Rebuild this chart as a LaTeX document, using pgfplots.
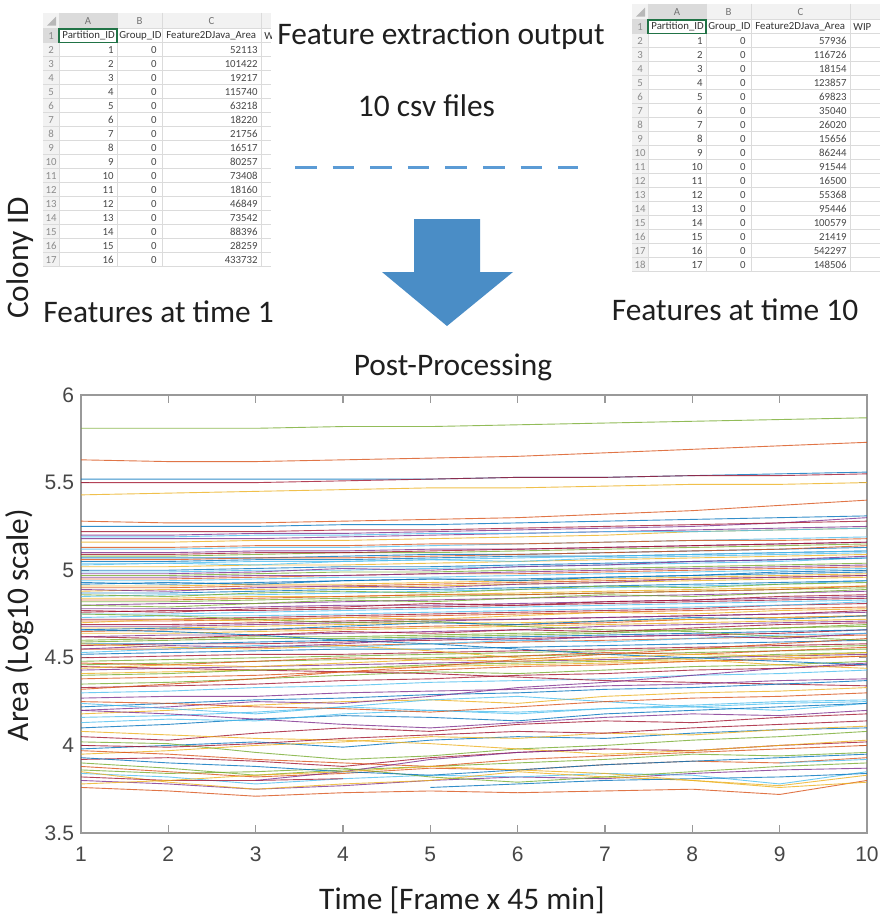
\documentclass[border=0pt]{standalone}
\usepackage{fontspec}
\setmainfont{Carlito}
\newfontfamily\axisfont{Liberation Sans}
\usepackage{pgfplots}
\usepackage{pgfplotstable}
\pgfplotsset{compat=1.18}

\definecolor{mblue}{RGB}{0,114,189}
\definecolor{morange}{RGB}{217,83,25}
\definecolor{myellow}{RGB}{237,177,32}
\definecolor{mpurple}{RGB}{126,47,142}
\definecolor{mgreen}{RGB}{119,172,48}
\definecolor{mcyan}{RGB}{77,190,238}
\definecolor{mred}{RGB}{162,20,47}
\definecolor{arrowblue}{RGB}{74,141,198}
\definecolor{dashblue}{RGB}{91,155,213}
\definecolor{xlgreen}{RGB}{33,115,70}

\pgfplotscreateplotcyclelist{matlab}{mblue\\morange\\myellow\\mpurple\\mgreen\\mcyan\\mred\\}

% log10 area of each colony (one row per colony, one column per frame)
\pgfplotstableread[header=has colnames]{
1 2 3 4 5 6 7 8 9 10
5.52 5.52 5.52 5.52 5.52 5.53 5.53 5.54 5.55 5.56
5.63 5.62 5.62 5.63 5.64 5.65 5.67 5.69 5.71 5.73
5.43 5.44 5.45 5.46 5.47 5.47 5.48 5.49 5.49 5.50
5.20 5.20 5.21 5.21 5.22 5.23 5.24 5.25 5.27 5.30
5.81 5.81 5.81 5.82 5.82 5.83 5.84 5.85 5.86 5.87
5.12 5.12 5.13 5.13 5.14 5.15 5.16 5.17 5.18 5.19
5.50 5.50 5.50 5.51 5.52 5.53 5.53 5.54 5.54 5.55
5.25 5.25 5.25 5.26 5.26 5.27 5.28 5.29 5.30 5.31
5.28 5.27 5.27 5.28 5.29 5.30 5.32 5.34 5.37 5.40
5.16 5.16 5.17 5.17 5.18 5.19 5.20 5.22 5.23 5.24
5.18 5.18 5.18 5.19 5.20 5.21 5.22 5.23 5.24 5.25
5.08 5.08 5.09 5.10 5.10 5.11 5.12 5.13 5.14 5.15
5.19 5.19 5.20 5.20 5.21 5.21 5.22 5.22 5.23 5.24
5.22 5.22 5.22 5.23 5.23 5.24 5.25 5.26 5.27 5.28
5.05 5.05 5.06 5.06 5.07 5.08 5.08 5.09 5.10 5.11
4.95 4.95 4.96 4.97 4.98 4.98 4.99 5.00 5.01 5.02
4.88 4.89 4.89 4.90 4.91 4.92 4.93 4.94 4.95 4.96
5.10 5.10 5.11 5.11 5.12 5.12 5.13 5.14 5.15 5.16
4.82 4.82 4.83 4.84 4.85 4.86 4.87 4.88 4.89 4.90
4.99 4.99 5.00 5.00 5.01 5.02 5.03 5.04 5.05 5.07
4.72 4.72 4.73 4.74 4.75 4.76 4.77 4.78 4.80 4.81
4.93 4.92 4.93 4.94 4.95 4.95 4.96 4.97 4.98 4.99
4.65 4.66 4.66 4.67 4.68 4.69 4.70 4.72 4.73 4.74
5.02 5.02 5.03 5.03 5.04 5.05 5.06 5.07 5.08 5.09
4.78 4.78 4.79 4.80 4.80 4.81 4.82 4.83 4.84 4.85
4.59 4.60 4.61 4.61 4.62 4.63 4.64 4.66 4.67 4.68
4.85 4.86 4.86 4.87 4.88 4.89 4.90 4.91 4.92 4.94
4.69 4.69 4.70 4.71 4.72 4.72 4.73 4.74 4.75 4.77
5.07 5.07 5.07 5.08 5.09 5.09 5.10 5.11 5.12 5.13
4.55 4.55 4.56 4.57 4.58 4.59 4.60 4.61 4.62 4.63
4.91 4.91 4.92 4.92 4.93 4.94 4.95 4.96 4.97 4.98
4.62 4.63 4.63 4.64 4.65 4.66 4.68 4.69 4.70 4.71
4.97 4.97 4.98 4.99 4.99 5.00 5.01 5.02 5.03 5.04
4.75 4.75 4.76 4.77 4.78 4.79 4.80 4.81 4.82 4.83
4.50 4.51 4.52 4.52 4.53 4.54 4.55 4.56 4.57 4.58
4.87 4.87 4.88 4.89 4.89 4.90 4.91 4.92 4.93 4.94
5.13 5.13 5.14 5.14 5.15 5.15 5.16 5.17 5.17 5.18
4.67 4.67 4.68 4.69 4.70 4.70 4.71 4.72 4.73 4.74
4.80 4.81 4.81 4.82 4.83 4.84 4.85 4.86 4.87 4.88
4.46 4.47 4.48 4.49 4.50 4.51 4.52 4.53 4.54 4.55
4.94 4.94 4.95 4.96 4.96 4.97 4.98 4.99 5.00 5.01
4.57 4.58 4.58 4.59 4.60 4.61 4.62 4.63 4.64 4.66
5.00 5.00 5.01 5.02 5.02 5.03 5.04 5.05 5.06 5.07
4.71 4.71 4.72 4.73 4.74 4.75 4.76 4.77 4.78 4.79
4.84 4.84 4.85 4.85 4.86 4.87 4.88 4.89 4.90 4.91
4.43 4.44 4.45 4.46 4.47 4.48 4.49 4.50 4.51 4.52
4.60 4.61 4.62 4.62 4.63 4.64 4.65 4.66 4.67 4.69
5.04 5.04 5.05 5.05 5.06 5.07 5.08 5.09 5.10 5.11
4.76 4.77 4.77 4.78 4.79 4.80 4.81 4.82 4.83 4.84
4.52 4.53 4.54 4.55 4.55 4.56 4.57 4.58 4.59 4.60
4.90 4.90 4.91 4.91 4.92 4.93 4.94 4.95 4.96 4.97
4.64 4.64 4.65 4.66 4.67 4.68 4.69 4.70 4.71 4.72
4.96 4.96 4.97 4.97 4.98 4.99 5.00 5.01 5.02 5.03
4.48 4.49 4.50 4.51 4.52 4.53 4.54 4.55 4.56 4.57
4.73 4.74 4.74 4.75 4.76 4.77 4.78 4.79 4.80 4.82
5.09 5.09 5.10 5.10 5.11 5.12 5.13 5.14 5.15 5.16
4.58 4.58 4.59 4.60 4.61 4.62 4.63 4.64 4.65 4.66
4.83 4.83 4.84 4.85 4.86 4.86 4.87 4.88 4.89 4.91
4.41 4.42 4.43 4.44 4.45 4.46 4.47 4.48 4.50 4.51
4.68 4.68 4.69 4.70 4.71 4.72 4.73 4.74 4.75 4.76
4.35 4.36 4.38 4.40 4.42 4.41 4.43 4.45 4.46 4.48
4.30 4.31 4.33 4.34 4.36 4.37 4.38 4.40 4.41 4.43
4.45 4.44 4.43 4.42 4.41 4.39 4.37 4.36 4.35 4.34
4.22 4.24 4.26 4.27 4.29 4.30 4.32 4.33 4.35 4.37
4.38 4.39 4.40 4.42 4.43 4.45 4.46 4.48 4.49 4.51
4.18 4.20 4.23 4.25 4.26 4.24 4.28 4.30 4.31 4.33
4.27 4.28 4.28 4.30 4.31 4.32 4.34 4.35 4.37 4.38
4.40 4.41 4.43 4.44 4.46 4.47 4.48 4.50 4.52 4.53
4.16 4.17 4.19 4.22 4.20 4.18 4.21 4.23 4.25 4.26
4.33 4.34 4.35 4.37 4.38 4.40 4.41 4.43 4.44 4.46
4.66 4.65 4.63 4.60 4.58 4.55 4.52 4.50 4.48 4.46
4.32 4.35 4.38 4.42 4.45 4.49 4.52 4.55 4.58 4.61
4.58 4.56 4.55 4.57 4.54 4.50 4.48 4.49 4.46 4.44
4.20 4.22 4.25 4.24 4.28 4.33 4.36 4.40 4.44 4.47
4.75 4.74 4.72 4.70 4.71 4.68 4.66 4.65 4.62 4.60
4.24 4.21 4.18 4.22 4.26 4.28 4.25 4.22 4.20 4.24
4.05 4.03 4.07 4.10 4.08 4.12 4.14 4.13 4.16 4.18
3.98 4.00 4.02 3.99 4.03 4.05 4.04 4.07 4.09 4.10
3.88 3.85 3.82 3.84 3.87 3.86 3.89 3.91 3.90 3.93
3.95 3.97 4.00 4.02 4.05 4.04 4.07 4.06 4.09 4.11
3.80 3.78 3.75 3.77 3.80 3.82 3.81 3.84 3.86 3.87
4.02 4.01 3.96 3.92 3.94 3.98 4.00 4.03 4.05 4.08
3.84 3.82 3.78 3.81 3.83 3.82 3.84 3.83 3.78 3.85
3.92 3.93 3.91 3.88 3.93 3.96 3.98 3.97 4.00 4.02
4.10 4.12 4.15 4.17 4.16 4.14 4.18 4.20 4.22 4.24
3.76 3.74 3.71 3.73 3.74 3.73 3.74 3.75 3.72 3.80
3.85 3.79 3.75 3.78 3.80 3.85 3.82 3.80 3.77 3.83
4.20 4.18 4.15 4.12 4.10 4.13 4.16 4.18 4.17 4.20
3.90 3.87 3.83 3.86 3.88 3.90 3.92 3.95 3.94 3.96
4.13 4.15 4.14 4.18 4.20 4.19 4.21 4.22 4.24 4.25
3.82 3.80 3.80 3.81 nan nan nan nan nan nan
nan nan nan nan 3.76 3.78 3.80 3.81 3.82 3.84
3.97 3.95 3.92 3.90 3.88 3.92 3.94 3.96 3.98 4.00
4.08 4.06 4.04 4.03 4.01 3.98 3.95 3.97 4.00 4.03
nan nan 3.80 3.85 3.92 3.96 3.98 nan nan nan
3.86 3.84 3.85 3.87 3.82 3.79 3.82 3.85 3.88 3.90
nan nan nan nan nan nan nan nan 3.90 3.92
4.00 3.99 4.01 4.04 4.06 4.08 4.07 4.10 4.12 4.14
3.93 3.90 3.88 3.85 3.83 3.86 3.89 3.91 3.93 3.95
4.25 4.24 4.22 4.21 4.19 4.22 4.25 4.27 4.28 4.30
3.78 3.80 3.83 3.85 3.88 3.86 3.84 3.80 3.76 3.79
4.55 4.57 4.56 4.58 4.61 4.60 4.62 4.63 4.61 4.64
4.80 4.79 4.81 4.83 4.82 4.84 4.86 4.85 4.87 4.89
5.03 5.04 5.03 5.05 5.06 5.05 5.07 5.08 5.09 5.10
4.62 4.61 4.63 4.65 4.64 4.66 4.65 4.67 4.69 4.70
4.92 4.93 4.92 4.94 4.95 4.94 4.96 4.97 4.99 5.00
4.47 4.46 4.48 4.50 4.49 4.51 4.53 4.52 4.54 4.56
4.70 4.72 4.71 4.73 4.72 4.74 4.76 4.75 4.77 4.78
4.98 4.98 4.99 5.01 5.00 5.02 5.03 5.05 5.06 5.08
4.86 4.85 4.87 4.88 4.87 4.89 4.91 4.90 4.92 4.93
4.53 4.55 4.57 4.56 4.58 4.60 4.59 4.61 4.63 4.64
4.77 4.76 4.78 4.79 4.81 4.80 4.82 4.83 4.85 4.86
4.66 4.67 4.66 4.68 4.70 4.69 4.71 4.73 4.72 4.74
5.06 5.06 5.07 5.07 5.08 5.09 5.10 5.11 5.12 5.14
4.44 4.46 4.45 4.47 4.49 4.48 4.50 4.52 4.51 4.53
4.89 4.88 4.90 4.91 4.90 4.92 4.93 4.95 4.96 4.97
}\arearaw
\pgfplotstabletranspose\colonies\arearaw
\pgfplotstablegetrowsof{\arearaw}
\pgfmathtruncatemacro\ncolonies{\pgfplotsretval}

\newcommand\bigfont{\fontsize{15.7}{18}\selectfont}
\newcommand\cellfont{\fontsize{5.4}{6}\selectfont}

% spreadsheet screenshot: #1 x0, #2 y0, #3 rows, #4 last header, #5 right edge, #6 id/area pairs
\newcommand\sheet[6]{%
\begin{scope}[shift={(#1,#2)}]
  \pgfmathsetmacro\sheetbottom{16+#3*14}
  \begin{scope}
    \clip (0,0) rectangle (#5-#1,\sheetbottom+1);
    \fill[black!5] (0,0) rectangle (#5-#1,16);
    \fill[black!5] (0,16) rectangle (16,\sheetbottom);
    \fill[black!14] (16,0) rectangle (74,16);
    \fill[black!14] (0,16) rectangle (16,30);
    \fill[black!28] (13,13) -- (13,4) -- (4,13) -- cycle;
    \foreach \cx in {16,74,119,218}
      \draw[black!14, line width=0.4pt] (\cx,0) -- (\cx,\sheetbottom);
    \foreach \k in {0,...,#3}
      \draw[black!14, line width=0.4pt] (0,16+14*\k) -- (#5-#1,16+14*\k);
    \draw[xlgreen, line width=0.9pt] (16,16) -- (74,16);
    \draw[xlgreen, line width=0.7pt] (16,16) rectangle (74,30);
    \begin{scope}[every node/.style={font=\cellfont, inner sep=0pt}]
      \node[text=black!55] at (45,8) {A};
      \node[text=black!55] at (96.5,8) {B};
      \node[text=black!55] at (168.5,8) {C};
      \node[text=black!45] at (8,23) {1};
      \node[text=black!80, anchor=west] at (19,23) {Partition\_ID};
      \node[text=black!80, anchor=west] at (76,23) {Group\_ID};
      \node[text=black!80, anchor=west] at (123,23) {Feature2DJava\_Area};
      \node[text=black!80, anchor=west] at (221,23) {#4};
      \foreach \p/\v [count=\i from 2] in {#6} {
        \node[text=black!45] at (8,14*\i+9) {\i};
        \node[text=black!72, anchor=east] at (71,14*\i+9) {\p};
        \node[text=black!72, anchor=east] at (114,14*\i+9) {0};
        \node[text=black!72, anchor=east] at (215,14*\i+9) {\v};
      }
    \end{scope}
  \end{scope}
\end{scope}}

\begin{document}
\begin{tikzpicture}
\useasboundingbox (0,0) rectangle (442pt,-458.5pt);
\fill[white] (0,0) rectangle (442pt,-458.5pt);

\begin{scope}[x=0.5pt, y=-0.5pt]
  \sheet{43}{12.7}{17}{W}{271}{1/52113,2/101422,3/19217,4/115740,5/63218,6/18220,7/21756,8/16517,9/80257,10/73408,11/18160,12/46849,13/73542,14/88396,15/28259,16/433732}
  \sheet{632}{3.7}{18}{WIP}{880}{1/57936,2/116726,3/18154,4/123857,5/69823,6/35040,7/26020,8/15656,9/86244,10/91544,11/16500,12/55368,13/95446,14/100579,15/21419,16/542297,17/148506}

  \begin{scope}[every node/.style={font=\bigfont, text=black!88, inner sep=0pt}]
    \node[anchor=base] at (441,44) {Feature extraction output};
    \node[anchor=base] at (426.5,116) {10 csv files};
    \node[anchor=base, rotate=90] at (28,258) {Colony ID};
    \node[anchor=base west] at (43,322.7) {Features at time 1};
    \node[anchor=base] at (735,320) {Features at time 10};
    \node[anchor=base] at (453,375) {Post-Processing};
    \node[anchor=base] at (462,909) {Time [Frame x 45 min]};
    \node[anchor=base, rotate=90] at (28,625) {Area (Log10 scale)};
  \end{scope}

  \draw[dashblue, line width=1.5pt, dash pattern=on 10.8pt off 8pt] (295,167) -- (578,167);
  \fill[arrowblue] (414,219) -- (480,219) -- (480,272) -- (513,272) -- (447,326)
    -- (382,272) -- (414,272) -- cycle;
\end{scope}

\begin{axis}[at={(40.5pt,-416.5pt)}, anchor=south west,
    scale only axis, width=393pt, height=219pt,
    xmin=1, xmax=10, ymin=3.5, ymax=6,
    xtick={1,2,3,4,5,6,7,8,9,10}, ytick={3.5,4,4.5,5,5.5,6},
    tick align=inside, major tick length=4pt,
    axis line style={black!40, line width=0.6pt},
    tick style={black!40, line width=0.6pt},
    /pgf/number format/assume math mode=true,
    ticklabel style={font=\axisfont\fontsize{10.5}{12}\selectfont, text=black!72},
    xticklabel style={yshift=-3.5pt},
    cycle list name=matlab, no markers,
    every axis plot/.append style={line width=0.45pt, opacity=0.8},
    unbounded coords=jump]
\pgfplotsinvokeforeach{1,...,\ncolonies}{
  \addplot table[x=colnames, y index=#1] {\colonies};
}
\end{axis}
\end{tikzpicture}
\end{document}
